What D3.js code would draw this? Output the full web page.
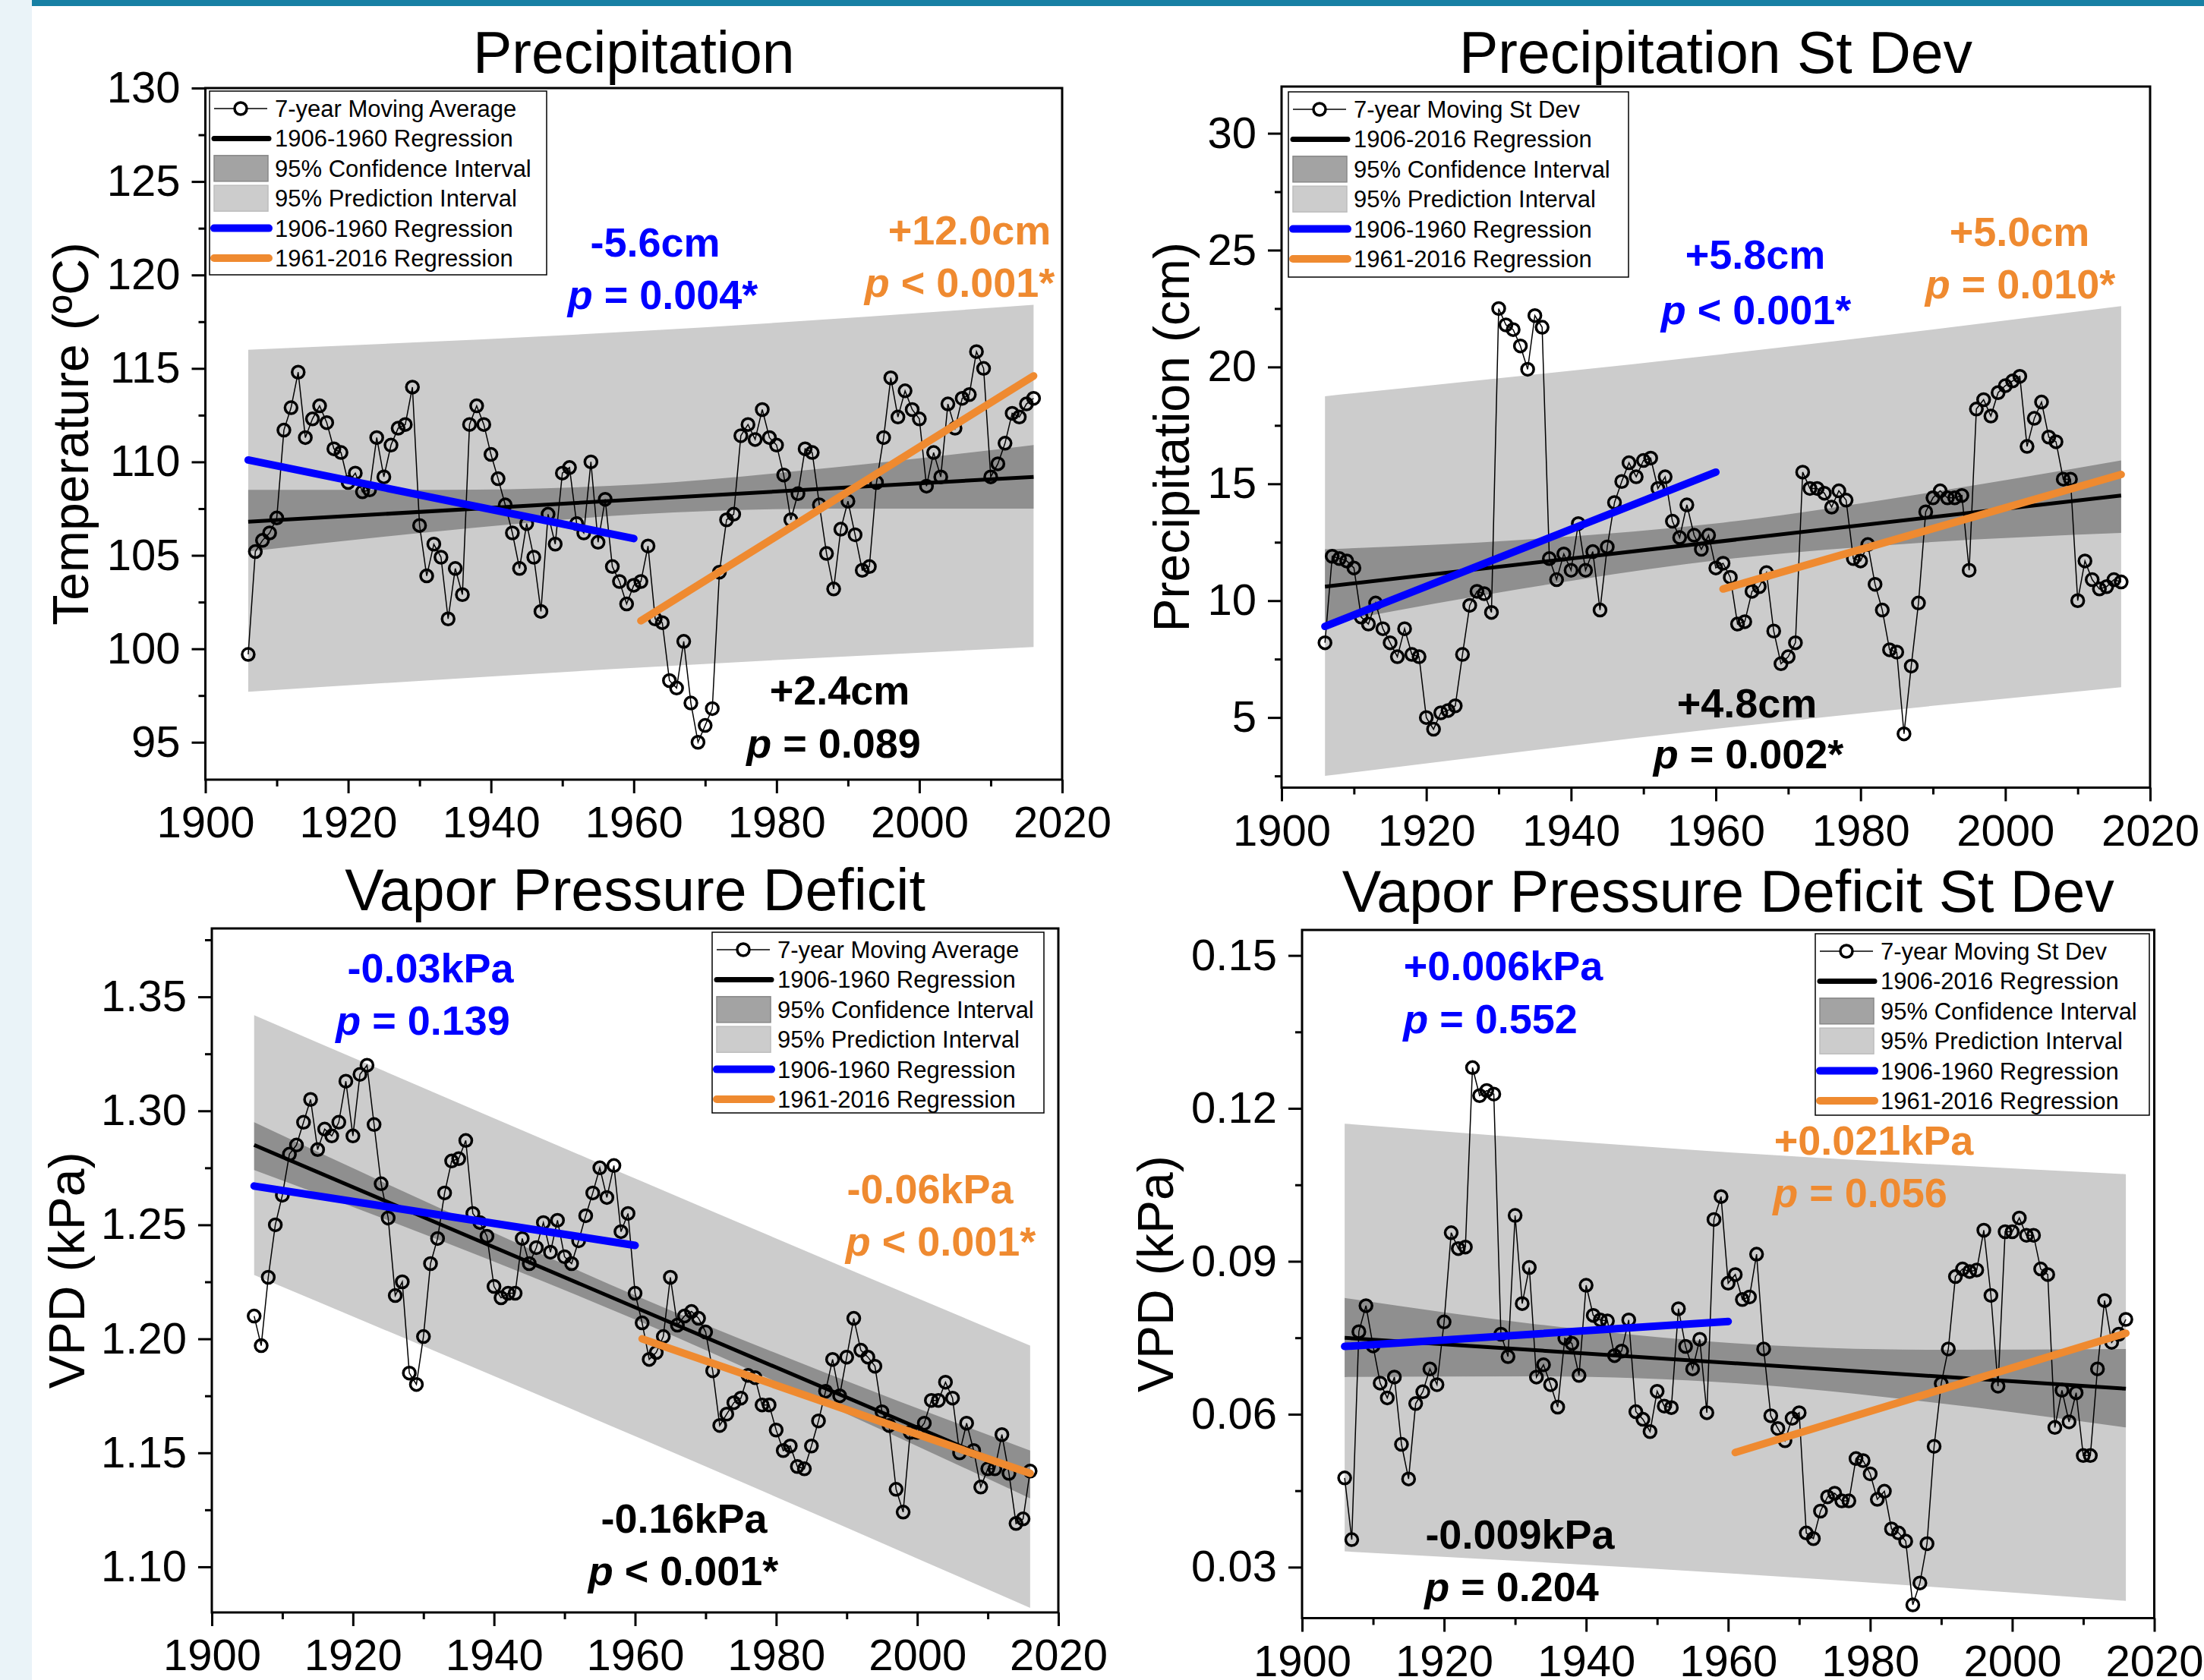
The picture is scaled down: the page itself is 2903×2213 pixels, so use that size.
<!DOCTYPE html>
<html>
<head>
<meta charset="utf-8">
<script src="https://cdn.jsdelivr.net/npm/d3@7"></script>
<style>
html, body { margin: 0; padding: 0; background: #fff; }
svg { display: block; font-family: "Liberation Sans", Arial, sans-serif; }
</style>
</head>
<body>
<svg id="chart" width="2903" height="2213"></svg>
<script>
// ---- data ----
var years = d3.range(1906, 2017);
var xTicks = [1900, 1920, 1940, 1960, 1980, 2000, 2020];
var xMinor = [1910, 1930, 1950, 1970, 1990, 2010];

var precipAvg = [99.7,105.2,105.8,106.2,107.0,111.7,112.9,114.8,111.3,112.3,
    113.0,112.1,110.7,110.5,108.9,109.4,108.4,108.5,111.3,109.2,
    110.9,111.8,112.0,114.0,106.6,103.9,105.6,104.9,101.6,104.3,
    102.9,112.0,113.0,112.0,110.4,109.1,107.7,106.2,104.3,106.7,
    104.9,102.0,107.2,105.6,109.4,109.7,106.7,106.2,110.0,105.7,
    108.0,104.4,103.6,102.4,103.4,103.6,105.5,101.6,101.4,98.3,
    97.9,100.4,97.1,95.0,95.9,96.8,104.1,106.9,107.2,111.4,
    112.0,111.2,112.8,111.3,110.9,109.3,106.9,108.3,110.7,110.5,
    107.7,105.1,103.2,106.4,107.9,106.1,104.2,104.4,108.9,111.3,
    114.5,112.4,113.8,112.8,112.3,108.7,110.5,109.2,113.1,111.8,
    113.4,113.6,115.9,115.0,109.2,109.9,111.0,112.6,112.4,113.1,
    113.4];
var precipSd = [8.2,11.9,11.8,11.7,11.4,9.3,9.0,9.9,8.8,8.2,
    7.6,8.8,7.7,7.6,5.0,4.5,5.2,5.3,5.5,7.7,
    9.8,10.4,10.3,9.5,22.5,21.8,21.6,20.9,19.9,22.2,
    21.7,11.8,10.9,12.0,11.3,13.3,11.3,12.1,9.6,12.3,
    14.2,15.1,15.9,15.3,16.0,16.1,14.8,15.3,13.4,12.7,
    14.1,12.8,12.2,12.8,11.4,11.6,11.0,9.0,9.1,10.4,
    10.6,11.2,8.7,7.3,7.6,8.2,15.5,14.8,14.8,14.6,
    14.0,14.7,14.3,11.8,11.7,12.4,10.7,9.6,7.9,7.8,
    4.3,7.2,9.9,13.8,14.4,14.7,14.4,14.4,14.5,11.3,
    18.2,18.6,17.9,18.9,19.2,19.4,19.6,16.6,17.8,18.5,
    17.0,16.8,15.2,15.2,10.0,11.7,10.9,10.5,10.6,10.9,
    10.8];
var vpdAvg = [1.210,1.197,1.227,1.250,1.263,1.281,1.285,1.295,1.305,1.283,
    1.292,1.289,1.295,1.313,1.289,1.316,1.320,1.294,1.268,1.253,
    1.219,1.225,1.185,1.180,1.201,1.233,1.244,1.264,1.278,1.279,
    1.287,1.255,1.251,1.245,1.223,1.218,1.220,1.220,1.244,1.233,
    1.240,1.251,1.238,1.252,1.236,1.233,1.243,1.254,1.264,1.275,
    1.262,1.276,1.247,1.255,1.220,1.207,1.191,1.194,1.201,1.227,
    1.206,1.210,1.212,1.209,1.203,1.186,1.162,1.167,1.172,1.174,
    1.184,1.183,1.171,1.171,1.160,1.151,1.153,1.144,1.143,1.153,
    1.164,1.177,1.191,1.175,1.192,1.209,1.195,1.192,1.188,1.168,
    1.162,1.134,1.124,1.159,1.159,1.163,1.173,1.173,1.181,1.174,
    1.150,1.163,1.151,1.135,1.143,1.143,1.158,1.141,1.119,1.121,
    1.142];
var vpdSd = [0.0475,0.0354,0.0762,0.0813,0.0734,0.0661,0.0632,0.0673,0.0541,0.0473,
    0.0621,0.0644,0.0689,0.0658,0.0781,0.0956,0.0925,0.0928,0.1280,0.1225,
    0.1235,0.1228,0.0757,0.0713,0.0990,0.0817,0.0888,0.0673,0.0697,0.0658,
    0.0614,0.0749,0.0739,0.0676,0.0853,0.0794,0.0785,0.0783,0.0715,0.0724,
    0.0785,0.0605,0.0590,0.0566,0.0645,0.0616,0.0613,0.0807,0.0733,0.0689,
    0.0747,0.0603,0.0982,0.1027,0.0857,0.0874,0.0825,0.0830,0.0914,0.0728,
    0.0597,0.0572,0.0548,0.0592,0.0603,0.0367,0.0356,0.0410,0.0438,0.0445,
    0.0430,0.0430,0.0513,0.0509,0.0483,0.0433,0.0449,0.0375,0.0367,0.0351,
    0.0226,0.0269,0.0346,0.0537,0.0660,0.0728,0.0870,0.0885,0.0880,0.0883,
    0.0961,0.0833,0.0655,0.0958,0.0958,0.0985,0.0951,0.0951,0.0885,0.0874,
    0.0574,0.0647,0.0585,0.0642,0.0519,0.0519,0.0689,0.0823,0.0741,0.0757,
    0.0786];

// regression end values: [start, end]
var regYearsAll = [1906, 2016];
var regYearsEarly = [1906, 1960];
var regYearsLate = [1961, 2016];
var precipAvgReg = {all: [106.8, 109.2], early: [110.1, 105.9], late: [101.5, 114.6]};
var precipSdReg = {all: [10.6, 14.5], early: [8.9, 15.5], late: [10.5, 15.4]};
var vpdAvgReg = {all: [1.285, 1.140], early: [1.267, 1.241], late: [1.200, 1.141]};
var vpdSdReg = {all: [0.0750, 0.0650], early: [0.0733, 0.0782], late: [0.0525, 0.0759]};

// confidence / prediction bands
var ciYears = [1906, 1933, 1961, 1988, 2016];
var piYears = [1906, 1961, 2016];
var precipAvgCiLow = [105.2, 106.3, 107.2, 107.5, 107.5];
var precipAvgCiHigh = [108.5, 108.5, 108.8, 109.7, 110.9];
var precipAvgPiLow = [97.7, 99.0, 100.1];
var precipAvgPiHigh = [116.0, 117.0, 118.4];
var precipSdCiLow = [9.0, 10.5, 11.76, 12.47, 12.9];
var precipSdCiHigh = [12.2, 12.6, 13.34, 14.55, 16.0];
var precipSdPiLow = [2.5, 4.55, 6.3];
var precipSdPiHigh = [18.75, 20.55, 22.6];
var vpdAvgCiLow = [1.274, 1.2424, 1.2072, 1.1699, 1.130];
var vpdAvgCiHigh = [1.295, 1.2564, 1.2178, 1.1839, 1.151];
var vpdAvgPiLow = [1.228, 1.156, 1.082];
var vpdAvgPiHigh = [1.342, 1.269, 1.197];
var vpdSdCiLow = [0.0673, 0.06745, 0.0661, 0.06245, 0.0574];
var vpdSdCiHigh = [0.0828, 0.07765, 0.0739, 0.07265, 0.0728];
var vpdSdPiLow = [0.0331, 0.0287, 0.0234];
var vpdSdPiHigh = [0.1170, 0.1113, 0.1071];

// y ticks
var precipAvgTicks = [95, 100, 105, 110, 115, 120, 125, 130];
var precipAvgMinor = [97.5, 102.5, 107.5, 112.5, 117.5, 122.5, 127.5];
var precipSdTicks = [5, 10, 15, 20, 25, 30];
var precipSdMinor = [2.5, 7.5, 12.5, 17.5, 22.5, 27.5];
var vpdAvgTicks = [1.10, 1.15, 1.20, 1.25, 1.30, 1.35];
var vpdAvgMinor = [1.125, 1.175, 1.225, 1.275, 1.325, 1.375];
var vpdSdTicks = [0.03, 0.06, 0.09, 0.12, 0.15];
var vpdSdMinor = [0.045, 0.075, 0.105, 0.135];

var legendAvg = ["7-year Moving Average", "1906-1960 Regression", "95% Confidence Interval",
    "95% Prediction Interval", "1906-1960 Regression", "1961-2016 Regression"];
var legendSd = ["7-year Moving St Dev", "1906-2016 Regression", "95% Confidence Interval",
    "95% Prediction Interval", "1906-1960 Regression", "1961-2016 Regression"];

var BLUE = "#0000ff", ORANGE = "#ef8a30", BLACK = "#000000";

var panels = [
    {title: "Precipitation", ylabel: "Temperature (\u00baC)", values: precipAvg, reg: precipAvgReg,
     ciLow: precipAvgCiLow, ciHigh: precipAvgCiHigh, piLow: precipAvgPiLow, piHigh: precipAvgPiHigh,
     yDomain: [93, 130], yTicks: precipAvgTicks, yMinor: precipAvgMinor, fmt: d3.format("d"),
     left: 270.5, right: 1399, top: 116, bottom: 1027, titleY: 96, ylabelX: 116,
     legend: {x: 276, y: 120, w: 444, h: 242, labels: legendAvg},
     notes: [
        {s: "-5.6cm", c: BLUE, x: 863, y: 338},
        {p: " = 0.004*", c: BLUE, x: 873, y: 407},
        {s: "+12.0cm", c: ORANGE, x: 1277, y: 322},
        {p: " < 0.001*", c: ORANGE, x: 1264, y: 391},
        {s: "+2.4cm", c: BLACK, x: 1106, y: 928},
        {p: " = 0.089", c: BLACK, x: 1098, y: 998}]},
    {title: "Precipitation St Dev", ylabel: "Precipitation (cm)", values: precipSd, reg: precipSdReg,
     ciLow: precipSdCiLow, ciHigh: precipSdCiHigh, piLow: precipSdPiLow, piHigh: precipSdPiHigh,
     yDomain: [2, 32], yTicks: precipSdTicks, yMinor: precipSdMinor, fmt: d3.format("d"),
     left: 1688, right: 2832, top: 114, bottom: 1037.5, titleY: 96, ylabelX: 1566,
     legend: {x: 1697, y: 121, w: 448, h: 244, labels: legendSd},
     notes: [
        {s: "+5.8cm", c: BLUE, x: 2312, y: 354},
        {p: " < 0.001*", c: BLUE, x: 2313, y: 427},
        {s: "+5.0cm", c: ORANGE, x: 2660, y: 324},
        {p: " = 0.010*", c: ORANGE, x: 2661, y: 393},
        {s: "+4.8cm", c: BLACK, x: 2301, y: 945},
        {p: " = 0.002*", c: BLACK, x: 2303, y: 1012}]},
    {title: "Vapor Pressure Deficit", ylabel: "VPD (kPa)", values: vpdAvg, reg: vpdAvgReg,
     ciLow: vpdAvgCiLow, ciHigh: vpdAvgCiHigh, piLow: vpdAvgPiLow, piHigh: vpdAvgPiHigh,
     yDomain: [1.08, 1.38], yTicks: vpdAvgTicks, yMinor: vpdAvgMinor, fmt: d3.format(".2f"),
     left: 279, right: 1394, top: 1223, bottom: 2124, titleY: 1199, ylabelX: 111,
     legend: {x: 938, y: 1228, w: 437, h: 238, labels: legendAvg},
     notes: [
        {s: "-0.03kPa", c: BLUE, x: 567, y: 1294},
        {p: " = 0.139", c: BLUE, x: 557, y: 1363},
        {s: "-0.06kPa", c: ORANGE, x: 1225, y: 1585},
        {p: " < 0.001*", c: ORANGE, x: 1239, y: 1654},
        {s: "-0.16kPa", c: BLACK, x: 901, y: 2019},
        {p: " < 0.001*", c: BLACK, x: 900, y: 2088}]},
    {title: "Vapor Pressure Deficit St Dev", ylabel: "VPD (kPa)", values: vpdSd, reg: vpdSdReg,
     ciLow: vpdSdCiLow, ciHigh: vpdSdCiHigh, piLow: vpdSdPiLow, piHigh: vpdSdPiHigh,
     yDomain: [0.02, 0.155], yTicks: vpdSdTicks, yMinor: vpdSdMinor, fmt: d3.format(".2f"),
     left: 1715, right: 2837.5, top: 1225, bottom: 2131.5, titleY: 1201, ylabelX: 1545,
     legend: {x: 2391, y: 1230, w: 440, h: 239, labels: legendSd},
     notes: [
        {s: "+0.006kPa", c: BLUE, x: 1980, y: 1291},
        {p: " = 0.552", c: BLUE, x: 1963, y: 1361},
        {s: "+0.021kPa", c: ORANGE, x: 2468, y: 1521},
        {p: " = 0.056", c: ORANGE, x: 2450, y: 1590},
        {s: "-0.009kPa", c: BLACK, x: 2002, y: 2040},
        {p: " = 0.204", c: BLACK, x: 1991, y: 2109}]}
];

var svg = d3.select("#chart");

// page decoration: pale strip at left, teal bar at top
svg.append("rect").attr("x", 0).attr("y", 0).attr("width", 42).attr("height", 2213).attr("fill", "#eaf3f8");
svg.append("rect").attr("x", 42).attr("y", 0).attr("width", 2861).attr("height", 8).attr("fill", "#1780a4");

function drawPanel(p) {
    var x = d3.scaleLinear().domain([1900, 2020]).range([p.left, p.right]);
    var y = d3.scaleLinear().domain(p.yDomain).range([p.bottom, p.top]);
    var g = svg.append("g");

    var band = d3.area()
        .x(function(d) { return x(d[0]); })
        .y0(function(d) { return y(d[1]); })
        .y1(function(d) { return y(d[2]); })
        .curve(d3.curveMonotoneX);
    g.append("path").datum(d3.zip(piYears, p.piLow, p.piHigh))
        .attr("d", band).attr("fill", "#cccccc");
    g.append("path").datum(d3.zip(ciYears, p.ciLow, p.ciHigh))
        .attr("d", band).attr("fill", "#8f8f8f");

    var line = d3.line()
        .x(function(d, i) { return x(years[i]); })
        .y(function(d) { return y(d); });
    g.append("path").datum(p.values).attr("d", line)
        .attr("fill", "none").attr("stroke", "#000").attr("stroke-width", 1.5);

    g.selectAll("circle.pt").data(p.values).enter().append("circle")
        .attr("class", "pt")
        .attr("cx", function(d, i) { return x(years[i]); })
        .attr("cy", function(d) { return y(d); })
        .attr("r", 8)
        .attr("fill", "none")
        .attr("stroke", "#000")
        .attr("stroke-width", 3.5);

    var regs = [
        {yrs: regYearsAll, vals: p.reg.all, color: BLACK, w: 5, cap: "butt"},
        {yrs: regYearsEarly, vals: p.reg.early, color: BLUE, w: 10, cap: "round"},
        {yrs: regYearsLate, vals: p.reg.late, color: ORANGE, w: 10, cap: "round"}
    ];
    regs.forEach(function(r) {
        g.append("line")
            .attr("x1", x(r.yrs[0])).attr("y1", y(r.vals[0]))
            .attr("x2", x(r.yrs[1])).attr("y2", y(r.vals[1]))
            .attr("stroke", r.color).attr("stroke-width", r.w)
            .attr("stroke-linecap", r.cap);
    });

    // axes
    var xAxis = g.append("g").attr("transform", "translate(0," + p.bottom + ")")
        .call(d3.axisBottom(x).tickValues(xTicks).tickFormat(d3.format("d"))
            .tickSize(18).tickSizeOuter(0).tickPadding(17));
    g.append("g").attr("transform", "translate(0," + p.bottom + ")")
        .call(d3.axisBottom(x).tickValues(xMinor).tickFormat("").tickSize(9).tickSizeOuter(0));
    var yAxis = g.append("g").attr("transform", "translate(" + p.left + ",0)")
        .call(d3.axisLeft(y).tickValues(p.yTicks).tickFormat(p.fmt)
            .tickSize(18).tickSizeOuter(0).tickPadding(15));
    g.append("g").attr("transform", "translate(" + p.left + ",0)")
        .call(d3.axisLeft(y).tickValues(p.yMinor).tickFormat("").tickSize(9).tickSizeOuter(0));
    g.selectAll(".domain").remove();
    g.selectAll(".tick line").attr("stroke", "#000").attr("stroke-width", 3);
    g.selectAll(".tick text").attr("font-size", 58).attr("fill", "#000")
        .attr("font-family", "'Liberation Sans', Arial, sans-serif");

    g.append("rect")
        .attr("x", p.left).attr("y", p.top)
        .attr("width", p.right - p.left).attr("height", p.bottom - p.top)
        .attr("fill", "none").attr("stroke", "#000").attr("stroke-width", 3);

    // title & y label
    g.append("text").attr("x", (p.left + p.right) / 2).attr("y", p.titleY)
        .attr("text-anchor", "middle").attr("font-size", 77).text(p.title);
    g.append("text")
        .attr("transform", "translate(" + p.ylabelX + "," + (p.top + p.bottom) / 2 + ") rotate(-90)")
        .attr("text-anchor", "middle").attr("font-size", 66).text(p.ylabel);

    // legend
    var L = p.legend;
    var lg = g.append("g").attr("transform", "translate(" + L.x + "," + L.y + ")");
    lg.append("rect").attr("width", L.w).attr("height", L.h)
        .attr("fill", "#fff").attr("stroke", "#000").attr("stroke-width", 1.5);
    L.labels.forEach(function(lab, i) {
        var cy = 23 + i * 39.4;
        if (i === 0) {
            lg.append("line").attr("x1", 6).attr("x2", 76).attr("y1", cy).attr("y2", cy)
                .attr("stroke", "#000").attr("stroke-width", 1.5);
            lg.append("circle").attr("cx", 41).attr("cy", cy).attr("r", 8)
                .attr("fill", "#fff").attr("stroke", "#000").attr("stroke-width", 3.5);
        } else if (i === 1 || i === 4 || i === 5) {
            var col = i === 1 ? BLACK : (i === 4 ? BLUE : ORANGE);
            lg.append("line").attr("x1", 6).attr("x2", 78).attr("y1", cy).attr("y2", cy)
                .attr("stroke", col).attr("stroke-width", i === 1 ? 7 : 10)
                .attr("stroke-linecap", "round");
        } else {
            lg.append("rect").attr("x", 6).attr("y", cy - 17).attr("width", 71).attr("height", 34)
                .attr("fill", i === 2 ? "#a3a3a3" : "#cccccc")
                .attr("stroke", i === 2 ? "#888" : "#bdbdbd").attr("stroke-width", 1.5);
        }
        lg.append("text").attr("x", 86).attr("y", cy + 11).attr("font-size", 31).text(lab);
    });

    // annotations
    p.notes.forEach(function(n) {
        var t = g.append("text").attr("x", n.x).attr("y", n.y)
            .attr("text-anchor", "middle").attr("font-size", 54)
            .attr("font-weight", "bold").attr("fill", n.c);
        if (n.s) {
            t.text(n.s);
        } else {
            t.append("tspan").attr("font-style", "italic").text("p");
            t.append("tspan").text(n.p);
        }
    });
}

panels.forEach(drawPanel);
</script>
</body>
</html>
